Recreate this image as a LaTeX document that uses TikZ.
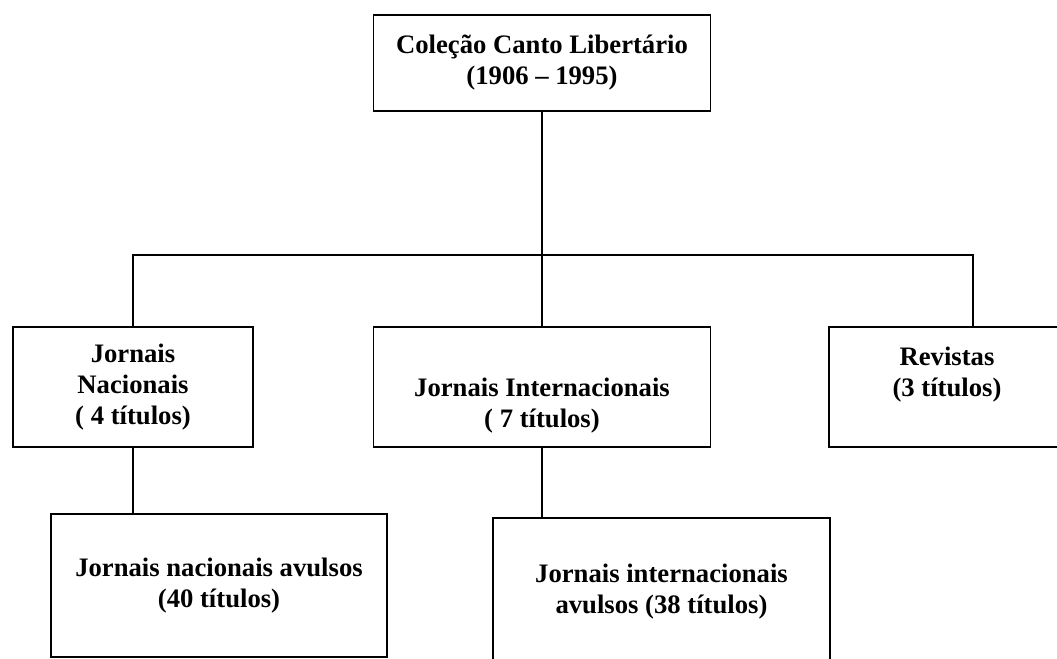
\documentclass[tikz,border=0pt]{standalone}
\usepackage{fontspec}
\setmainfont{Liberation Serif}
\usepackage{tikz}
\usetikzlibrary{calc}
\tikzstyle{cbox}=[draw,line width=1.2pt,align=center,inner sep=0pt,font=\bfseries\fontsize{20}{23.3}\selectfont]
\tikzstyle{link}=[line width=1.2pt]
\begin{document}
\begin{tikzpicture}[x=0.75pt,y=-0.75pt]
  \useasboundingbox (0,0) rectangle (1057,658);
  \clip (0,0) rectangle (1057,658);
  \node[cbox,minimum width=252.75pt,minimum height=72pt] (col) at (542,63) {Coleção Canto Libertário\\(1906 – 1995)};
  \node[cbox,minimum width=180pt,minimum height=90pt] (nac) at (133,387) {Jornais\\Nacionais\\( 4 títulos)};
  \node[cbox,minimum width=252.75pt,minimum height=90pt] (int) at (542,387) {\strut\\[2pt]Jornais Internacionais\\( 7 títulos)};
  \node[cbox,minimum width=177pt,minimum height=90pt] (rev) at (947,387) {Revistas\\(3 títulos)\\[-7.5pt]\strut};
  \node[cbox,minimum width=252pt,minimum height=107.25pt] (avnac) at (219,585.5) {Jornais nacionais avulsos\\(40 títulos)};
  \node[cbox,minimum width=252.75pt,minimum height=111pt] (avint) at (661.5,592) {Jornais internacionais\\avulsos (38 títulos)};
  \coordinate (bus) at (973,255);
  \draw[link] (col.south) -- (int.north);
  \draw[link] (nac.north) |- (bus) -- (bus |- rev.north);
  \draw[link] (nac.south) -- (nac.south |- avnac.north);
  \draw[link] (int.south) -- (int.south |- avint.north);
\end{tikzpicture}
\end{document}
